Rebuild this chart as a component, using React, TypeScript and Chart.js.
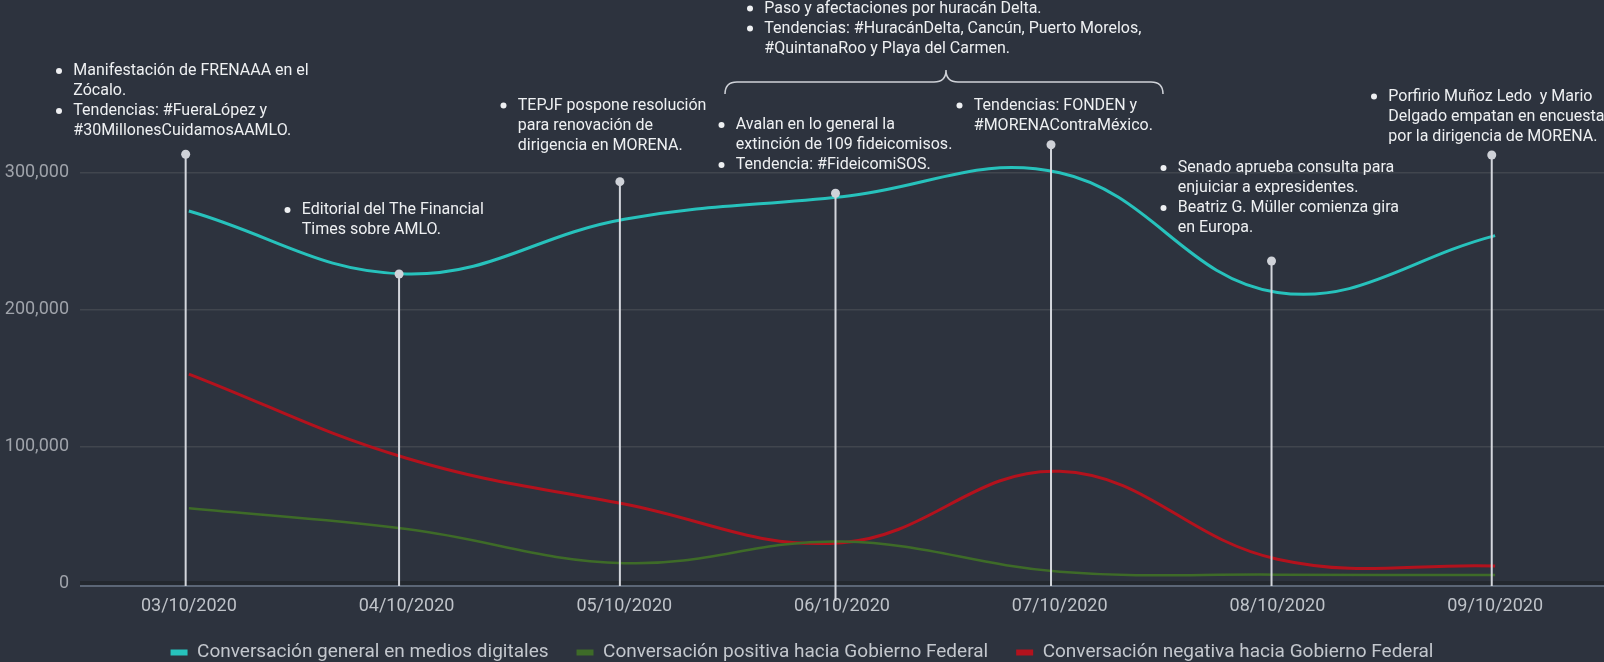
import React, { useEffect, useRef } from 'react';
import { Chart, registerables } from 'chart.js';

Chart.register(...registerables);

// ---- data ----
const dates = ['03/10/2020', '04/10/2020', '05/10/2020', '06/10/2020', '07/10/2020', '08/10/2020', '09/10/2020'];
const generalConv = [272000, 226000, 266000, 282500, 300000, 212500, 254000];
const positiveConv = [54700, 39500, 14500, 30300, 8300, 6100, 5800];
const negativeConv = [152800, 91200, 57800, 29500, 81700, 17400, 12500];
const yTickValues = [0, 100000, 200000, 300000];

const seriesNames = [
  'Conversación general en medios digitales',
  'Conversación positiva hacia Gobierno Federal',
  'Conversación negativa hacia Gobierno Federal',
];

// event pins (one per date): value where the pin head sits
const pinValues = [313500, 226000, 293500, 285000, 320500, 235500, 313000];

// event notes
const noteTexts: string[][][] = [
  [['Manifestación de FRENAAA en el', 'Zócalo.'], ['Tendencias: #FueraLópez y', '#30MillonesCuidamosAAMLO.']],
  [['Editorial del The Financial', 'Times sobre AMLO.']],
  [['TEPJF pospone resolución', 'para renovación de', 'dirigencia en MORENA.']],
  [['Avalan en lo general la', 'extinción de 109 fideicomisos.'], ['Tendencia: #FideicomiSOS.']],
  [['Tendencias: FONDEN y', '#MORENAContraMéxico.']],
  [['Paso y afectaciones por huracán Delta.'], ['Tendencias: #HuracánDelta, Cancún, Puerto Morelos,', '#QuintanaRoo y Playa del Carmen.']],
  [['Senado aprueba consulta para', 'enjuiciar a expresidentes.'], ['Beatriz G. Müller comienza gira', 'en Europa.']],
  [['Porfirio Muñoz Ledo  y Mario', 'Delgado empatan en encuesta', 'por la dirigencia de MORENA.']],
];

// ---- layout / style ----
const pinShift = [-3.2, -7.5, -4.4, -6.5, -8.7, -5.9, -3.4];
const pinExtend = [0, 0, 0, 15, 0, 0, 0];
const notePos = [
  { x: 59, y: 71 },
  { x: 287.5, y: 210 },
  { x: 503.5, y: 105.5 },
  { x: 721.5, y: 125 },
  { x: 959.5, y: 105.5 },
  { x: 750, y: 8.5 },
  { x: 1163.5, y: 168 },
  { x: 1374, y: 96.5 },
];

const BG = '#2d333e';
const CYAN = '#27c2bc';
const GREEN = '#3e6b28';
const RED = '#b3121d';

const decorPlugin = {
  id: 'decor',
  beforeDraw(chart: any) {
    const { ctx, width, height } = chart;
    ctx.save();
    ctx.fillStyle = BG;
    ctx.fillRect(0, 0, width, height);
    ctx.restore();
  },
  beforeDatasetsDraw(chart: any) {
    const { ctx, chartArea, scales } = chart;
    const y0 = scales.y.getPixelForValue(0);
    ctx.save();
    ctx.fillStyle = '#23282f';
    ctx.fillRect(chartArea.left, y0 - 2, chartArea.right - chartArea.left, 4);
    ctx.fillStyle = '#5b6676';
    ctx.fillRect(chartArea.left, y0 + 2, chartArea.right - chartArea.left, 2);
    ctx.restore();
  },
  afterDatasetsDraw(chart: any) {
    const { ctx, scales } = chart;
    const x = scales.x;
    const y = scales.y;
    const y0 = y.getPixelForValue(0);
    ctx.save();
    // pins
    pinValues.forEach((v, i) => {
      const px = x.getPixelForValue(i) + pinShift[i];
      const top = y.getPixelForValue(v);
      ctx.strokeStyle = '#d3d6dc';
      ctx.lineWidth = 2;
      ctx.beginPath();
      ctx.moveTo(px, top);
      ctx.lineTo(px, y0 + 3 + pinExtend[i]);
      ctx.stroke();
      ctx.fillStyle = '#cfd2d8';
      ctx.beginPath();
      ctx.arc(px, top, 4.5, 0, Math.PI * 2);
      ctx.fill();
    });
    // brace
    ctx.strokeStyle = '#cfd2d8';
    ctx.lineWidth = 1.5;
    ctx.beginPath();
    ctx.moveTo(725, 94);
    ctx.quadraticCurveTo(725, 82, 737, 82);
    ctx.lineTo(934, 82);
    ctx.quadraticCurveTo(946, 82, 946, 70);
    ctx.quadraticCurveTo(946, 82, 958, 82);
    ctx.lineTo(1151, 82);
    ctx.quadraticCurveTo(1163, 82, 1163, 94);
    ctx.stroke();
    // notes
    ctx.font = '16px Roboto';
    ctx.textBaseline = 'middle';
    ctx.textAlign = 'left';
    ctx.fillStyle = '#eef0f2';
    noteTexts.forEach((items, n) => {
      const p = notePos[n];
      let line = 0;
      items.forEach((item) => {
        const cy = p.y + line * 20;
        ctx.beginPath();
        ctx.arc(p.x, cy, 3, 0, Math.PI * 2);
        ctx.fill();
        item.forEach((t) => {
          ctx.fillText(t, p.x + 14.3, p.y + line * 20);
          line++;
        });
      });
    });
    ctx.restore();
  },
};

export default function App() {
  const canvasRef = useRef<HTMLCanvasElement | null>(null);

  useEffect(() => {
    document.body.style.margin = '0';
    document.body.style.overflow = 'hidden';
    document.documentElement.style.overflow = 'hidden';
    const canvas = canvasRef.current;
    if (!canvas) return;
    const chart = new Chart(canvas, {
      type: 'line',
      data: {
        labels: dates,
        datasets: [
          { label: seriesNames[0], data: generalConv, borderColor: CYAN, backgroundColor: CYAN, borderWidth: 3 },
          { label: seriesNames[1], data: positiveConv, borderColor: GREEN, backgroundColor: GREEN, borderWidth: 2.5 },
          { label: seriesNames[2], data: negativeConv, borderColor: RED, backgroundColor: RED, borderWidth: 3 },
        ],
      },
      options: {
        responsive: false,
        animation: false,
        devicePixelRatio: 1,
        layout: { padding: { top: 36, left: 0, right: 0, bottom: 0 } },
        elements: {
          line: { tension: 0.4, fill: false },
          point: { radius: 0, hoverRadius: 0 },
        },
        scales: {
          x: {
            offset: true,
            grid: { display: false, drawTicks: false },
            border: { display: false },
            ticks: { color: '#bfc3c9', font: { family: 'Roboto', size: 18 }, padding: 13, maxRotation: 0, autoSkip: false },
            afterFit: (scale: any) => { scale.height = 32; },
          },
          y: {
            min: 0,
            max: 400000,
            grid: { color: '#41464e', lineWidth: 1.5, drawTicks: false },
            border: { display: false },
            ticks: {
              color: '#9fa3aa',
              font: { family: 'Roboto', size: 18 },
              padding: 11,
              callback: (v: any) => Number(v).toLocaleString('en-US'),
            },
            afterBuildTicks: (scale: any) => { scale.ticks = yTickValues.map((v) => ({ value: v })); },
            afterFit: (scale: any) => { scale.width = 80; },
          },
        },
        plugins: {
          legend: {
            position: 'bottom',
            labels: {
              color: '#c3c7cd',
              font: { family: 'Roboto', size: 19 },
              boxWidth: 17,
              boxHeight: 6,
              padding: 28,
              generateLabels: (c: any) => {
                const items = Chart.defaults.plugins.legend.labels.generateLabels(c);
                return items.map((it: any) => ({ ...it, lineWidth: 0 }));
              },
            },
          },
          tooltip: { enabled: false },
        },
      },
      plugins: [decorPlugin],
    } as any);
    return () => chart.destroy();
  }, []);

  return (
    <div style={{ position: 'fixed', left: 0, top: 0, width: 1604, height: 672, background: BG }}>
      <canvas ref={canvasRef} width={1604} height={672} style={{ display: 'block' }} />
    </div>
  );
}
